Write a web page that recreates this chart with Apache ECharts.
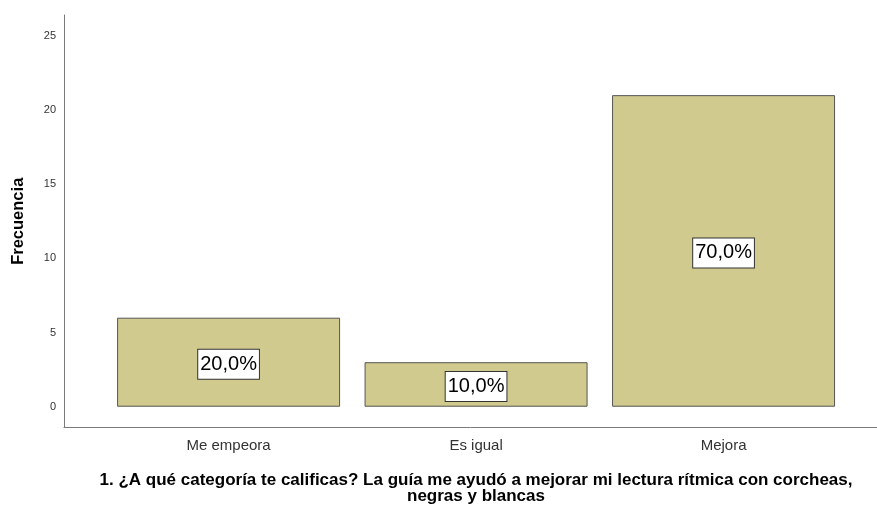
<!DOCTYPE html>
<html>
<head>
<meta charset="utf-8">
<script src="https://cdn.jsdelivr.net/npm/echarts@6/dist/echarts.min.js"></script>
<style>html,body{margin:0;padding:0;background:#fff}#c{width:877px;height:510px}</style>
</head>
<body>
<div id="c"></div>
<script>
const categories = ['Me empeora', 'Es igual', 'Mejora'];
const frequencies = [6, 3, 21];
const percentLabels = ['20,0%', '10,0%', '70,0%'];
const yTicks = [0, 5, 10, 15, 20, 25];
const xTitle = '1. ¿A qué categoría te calificas? La guía me ayudó a mejorar mi lectura rítmica con corcheas,\nnegras y blancas';
const yTitle = 'Frecuencia';

const chart = echarts.init(document.getElementById('c'), null, {renderer: 'canvas'});
const font = '"Liberation Sans", Arial, sans-serif';
chart.setOption({
  animation: false,
  backgroundColor: '#fff',
  grid: {left: 64, right: 0, top: 15, bottom: 79, containLabel: false},
  xAxis: {
    type: 'value',
    min: -0.665,
    max: 2.62,
    splitLine: {show: false},
    axisTick: {show: false},
    axisLine: {show: true, onZero: false, lineStyle: {color: '#7a7a7a', width: 1}},
    axisLabel: {
      customValues: [0, 1, 2],
      formatter: v => categories[Math.round(v)],
      color: '#333', fontSize: 15, fontFamily: font, margin: 11
    },
    name: xTitle,
    nameLocation: 'middle',
    nameGap: 45,
    nameTextStyle: {fontWeight: 'bold', fontSize: 17, color: '#000', fontFamily: font, lineHeight: 16, padding: [0, 0, 0, 11]}
  },
  yAxis: {
    type: 'value',
    min: -1.4,
    max: 26.4,
    splitLine: {show: false},
    axisTick: {show: false},
    axisLine: {show: true, onZero: false, lineStyle: {color: '#7a7a7a', width: 1}},
    axisLabel: {customValues: yTicks, color: '#333', fontSize: 11, fontFamily: font, margin: 8},
    name: yTitle,
    nameLocation: 'middle',
    nameGap: 37,
    nameTextStyle: {fontWeight: 'bold', fontSize: 16.5, color: '#000', fontFamily: font}
  },
  series: [{
    type: 'bar',
    barWidth: 223,
    data: frequencies.map((v, i) => [i, v]),
    itemStyle: {color: '#D0CA8E', borderColor: '#555', borderWidth: 1},
    label: {
      show: true,
      position: 'inside',
      offset: [0, 2],
      formatter: p => percentLabels[p.dataIndex],
      color: '#000', fontSize: 20, fontFamily: font,
      backgroundColor: '#fff', borderColor: '#333', borderWidth: 1,
      padding: [5, 2, 4, 2]
    }
  }]
});
</script>
</body>
</html>
